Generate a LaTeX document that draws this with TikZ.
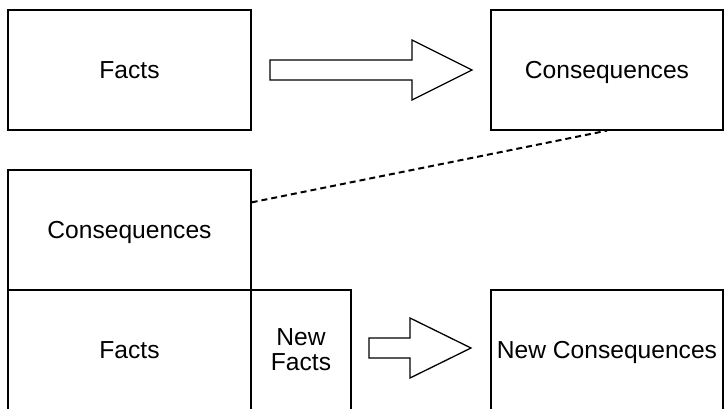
\documentclass[tikz,border=0pt]{standalone}
\usepackage{fontspec}
\setmainfont{Liberation Sans}
\usetikzlibrary{calc}
\begin{document}
\begin{tikzpicture}[x=1pt,y=-1pt,
  box/.style={draw=black, line width=1.3pt, rectangle, inner sep=0pt,
    font=\fontsize{24.6}{25}\selectfont, align=center},
  oneline/.style={text height=17pt, text depth=0pt},
  blockarrow/.style={draw=black, line width=1.3pt, line join=miter, fill=white},
  link/.style={draw=black, line width=2pt, dash pattern=on 6pt off 4pt}]
\useasboundingbox (0,0) rectangle (724,408);

% top row: facts lead to consequences
\node[box, oneline, minimum width=243pt, minimum height=120pt] (facts) at (129.5,70) {Facts};
\node[box, oneline, minimum width=232pt, minimum height=120pt] (cons) at (607,70) {Consequences};
\draw[blockarrow] (270,60) -- (412,60) -- (412,40) -- (472,70) -- (412,100)
  -- (412,80) -- (270,80) -- cycle;

% bottom row: consequences stacked on the facts, plus new facts
\node[box, oneline, minimum width=243pt, minimum height=120pt] (cons2) at (129.5,230) {Consequences};
\node[box, oneline, minimum width=243pt, minimum height=120pt] (facts2) at (129.5,350) {Facts};
\node[box, minimum width=100pt, minimum height=120pt] (newfacts) at (301,350) {New\\Facts};
\node[box, oneline, minimum width=232pt, minimum height=120pt] (newcons) at (607,350) {New Consequences};
\draw[blockarrow] (369,338) -- (410,338) -- (410,318) -- (471,348) -- (410,378)
  -- (410,358) -- (369,358) -- cycle;

% the earlier consequences become part of the new facts
\draw[link] ($(cons2.north east)+(0,33)$) -- (cons.south);
\end{tikzpicture}
\end{document}
